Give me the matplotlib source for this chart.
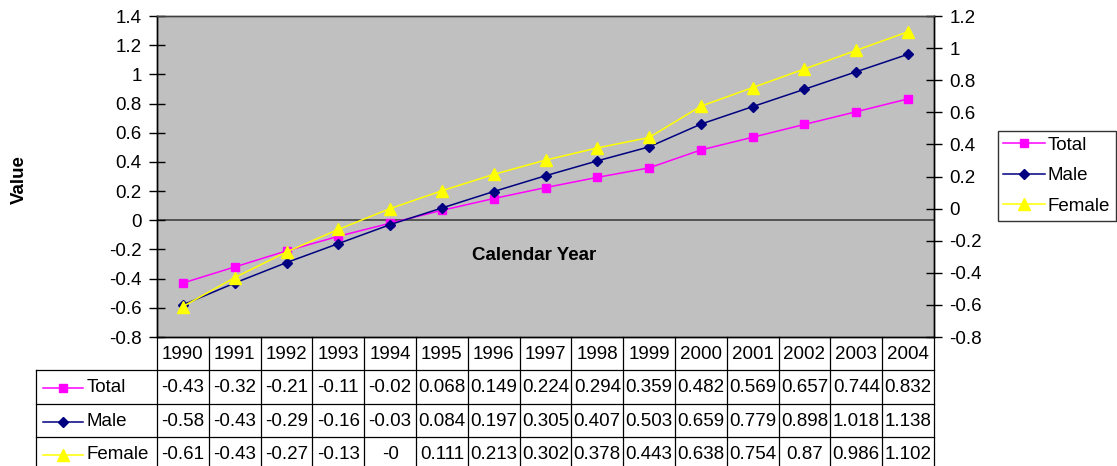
import numpy as np
import matplotlib
matplotlib.use("Agg")
import matplotlib.pyplot as plt
from matplotlib.lines import Line2D

plt.rcParams['font.family'] = ['Liberation Sans', 'DejaVu Sans']

years = [1990, 1991, 1992, 1993, 1994, 1995, 1996, 1997, 1998, 1999, 2000, 2001, 2002, 2003, 2004]
total = [-0.43, -0.32, -0.21, -0.11, -0.02, 0.068, 0.149, 0.224, 0.294, 0.359, 0.482, 0.569, 0.657, 0.744, 0.832]
male = [-0.58, -0.43, -0.29, -0.16, -0.03, 0.084, 0.197, 0.305, 0.407, 0.503, 0.659, 0.779, 0.898, 1.018, 1.138]
female = [-0.61, -0.43, -0.27, -0.13, -0.0, 0.111, 0.213, 0.302, 0.378, 0.443, 0.638, 0.754, 0.87, 0.986, 1.102]
series_names = ["Total", "Male", "Female"]


def fmt_cell(v):
    if np.signbit(v):
        s = f"{v:.2f}"
    else:
        s = f"{v:.3f}"
    s = s.rstrip('0').rstrip('.')
    return s


def fmt_tick(v, pos=None):
    v = round(v, 2)
    if abs(v) < 1e-9:
        return "0"
    return f"{v:g}"


W, H = 1117, 466
L, R, T, B = 157, 934, 16, 337
FS = 13.5

fig = plt.figure(figsize=(W / 100, H / 100), dpi=100)
ax = fig.add_axes([L / W, 1 - B / H, (R - L) / W, (B - T) / H])
ax.set_facecolor('#C0C0C0')
x = np.arange(len(years))
ax.set_xlim(-0.5, len(years) - 0.5)
ax.set_ylim(-0.8, 1.4)
ax.set_yticks(np.arange(-0.8, 1.41, 0.2))
ax.yaxis.set_major_formatter(matplotlib.ticker.FuncFormatter(fmt_tick))
ax.set_xticks([])
ax.axhline(0, color='#404040', lw=1.2, zorder=1)

ax2 = ax.twinx()
ax2.set_ylim(-0.8, 1.2)
ax2.set_yticks(np.arange(-0.8, 1.21, 0.2))
ax2.yaxis.set_major_formatter(matplotlib.ticker.FuncFormatter(fmt_tick))

styles = {
    "Total": dict(color='#FF00FF', marker='s', markersize=6),
    "Male": dict(color='#000080', marker='D', markersize=5),
    "Female": dict(color='#FFFF00', marker='^', markersize=8),
}

l1, = ax.plot(x, total, lw=1.1, **styles["Total"], zorder=3)
l2, = ax.plot(x, male, lw=1.1, **styles["Male"], zorder=3)
l3, = ax2.plot(x, female, lw=1.1, **styles["Female"], zorder=3)

for a in (ax, ax2):
    a.tick_params(axis='y', direction='inout', length=12, width=1, labelsize=FS, pad=5, colors='black')
    for s in a.spines.values():
        s.set_linewidth(1)
        s.set_color('black')
ax.spines['top'].set_color('#404040')
ax2.spines['top'].set_color('#404040')

fig.text(534 / W, 1 - 256 / H, "Calendar Year", fontsize=FS, fontweight='bold',
         ha='center', va='center')
fig.text(19 / W, 1 - 180 / H, "Value", rotation=90, fontsize=FS, fontweight='bold',
         ha='center', va='center')

leg = fig.legend([l1, l2, l3], series_names, loc='upper right',
                 bbox_to_anchor=(1115.5 / W, 1 - 131 / H), frameon=True, fancybox=False,
                 edgecolor='black', fontsize=FS, handlelength=2.2, handletextpad=0.15,
                 labelspacing=0.72, borderpad=0.3, borderaxespad=0)
leg.get_frame().set_linewidth(1)

# Data table
tab = fig.add_axes([0, 0, 1, 1])
tab.set_xlim(0, W)
tab.set_ylim(H, 0)
tab.axis('off')
tab.patch.set_visible(False)

n = len(years)
cw = (R - L) / n
rows_y = [337, 370, 404, 437, 470]
lc = dict(color='black', lw=0.9)
for i in range(n + 1):
    tab.plot([L + i * cw] * 2, [rows_y[0], rows_y[-1]], **lc)
tab.plot([36, 36], [rows_y[1], rows_y[-1]], **lc)
for yy in rows_y[1:]:
    tab.plot([36, R], [yy, yy], **lc)

for i, yr in enumerate(years):
    tab.text(L + (i + 0.5) * cw, (rows_y[0] + rows_y[1]) / 2 + 1, str(yr), fontsize=FS,
             ha='center', va='center')

for r, (name, vals) in enumerate(zip(series_names, [total, male, female])):
    yc = (rows_y[r + 1] + rows_y[r + 2]) / 2 + 1
    st = styles[name]
    tab.add_line(Line2D([43, 83], [yc, yc], color=st['color'], lw=1.1))
    tab.add_line(Line2D([63], [yc], color=st['color'], marker=st['marker'],
                        markersize=st['markersize']))
    tab.text(87, yc, name, fontsize=FS, ha='left', va='center')
    for i, v in enumerate(vals):
        tab.text(L + (i + 0.5) * cw, yc, fmt_cell(v), fontsize=FS, ha='center', va='center')

fig.savefig("out.png", dpi=100)
